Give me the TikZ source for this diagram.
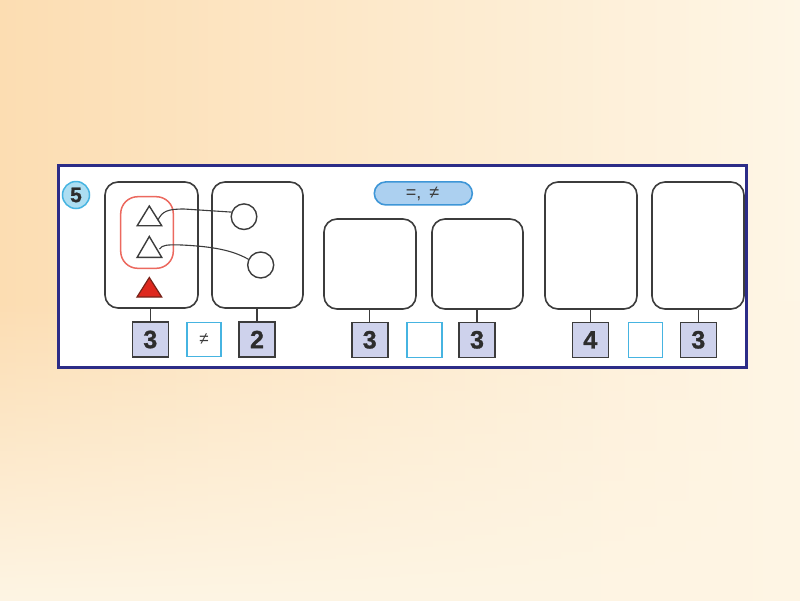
\documentclass[tikz,border=0pt]{standalone}
\usepackage{fontspec}
\setmainfont{Liberation Sans}
\usetikzlibrary{fadings}
\definecolor{bgL}{RGB}{252,221,178}
\definecolor{bgR}{RGB}{254,246,230}
\definecolor{bgB}{RGB}{254,245,228}
\definecolor{navy}{RGB}{44,44,135}
\definecolor{cyanline}{RGB}{70,180,225}
\definecolor{cyanfill}{RGB}{172,222,242}
\definecolor{pillfill}{RGB}{172,208,240}
\definecolor{pillline}{RGB}{62,150,215}
\definecolor{numfill}{RGB}{206,210,236}
\definecolor{inkgray}{RGB}{60,60,60}
\definecolor{digit}{RGB}{45,45,45}
\definecolor{redline}{RGB}{236,105,95}
\definecolor{redfill}{RGB}{222,40,30}
\definecolor{reddark}{RGB}{120,35,25}
\tikzset{
  bigbox/.style={draw=inkgray, line width=1.6pt, rounded corners=13pt, inner sep=0pt, fill=white},
  numbox/.style={draw=inkgray, line width=1.6pt, fill=numfill, inner sep=0pt,
     minimum width=36pt, minimum height=35pt, text=digit,
     font=\fontsize{25}{25}\selectfont\bfseries\addfontfeature{FakeBold=1.2}},
  signbox/.style={draw=cyanline, line width=1.6pt, fill=white, inner sep=0pt,
     minimum width=34pt, minimum height=34pt, text=inkgray,
     font=\fontsize{17}{17}\selectfont},
  stem/.style={draw=inkgray, line width=1.5pt},
  link/.style={draw=inkgray, line width=1.1pt},
  hollowtri/.style={draw=inkgray, line width=1.4pt, fill=white, line join=miter},
}
\begin{document}
\begin{tikzpicture}[x=1pt,y=-1pt]
\useasboundingbox (0,0) rectangle (800,600);
% background
\fill[left color=bgL, right color=bgR] (-1,-1) rectangle (801,601);
\fill[bgB, path fading=north] (-1,300) rectangle (801,601);
% frame
\draw[navy, line width=3.5pt, fill=white] (58.5,165.5) rectangle (746.5,367.5);
% number badge
\node[circle, draw=cyanline, fill=cyanfill, line width=1.5pt, minimum size=27pt, inner sep=0pt,
  font=\fontsize{21}{21}\selectfont\bfseries\addfontfeature{FakeBold=1}, text=digit] (badge) at (76,195) {5};
% big boxes
\node[bigbox, minimum width=93pt, minimum height=126pt] (b1) at (151.5,245) {};
\node[bigbox, minimum width=91pt, minimum height=126pt] (b2) at (257.5,245) {};
\node[bigbox, minimum width=92pt, minimum height=90pt] (b3) at (370,264) {};
\node[bigbox, minimum width=91pt, minimum height=90pt] (b4) at (477.5,264) {};
\node[bigbox, minimum width=92pt, minimum height=127pt] (b5) at (591,245.5) {};
\node[bigbox, minimum width=92pt, minimum height=127pt] (b6) at (698,245.5) {};
% pill
\node[draw=pillline, fill=pillfill, line width=1.6pt, rounded corners=11.5pt, inner sep=0pt,
  minimum width=98pt, minimum height=23pt] (pill) at (423.3,193.4) {};
\node[anchor=base, inner sep=0pt, text=inkgray, font=\fontsize{18}{18}\selectfont]
  (pilltext) at (422.5,198.5) {=,\, ≠};
% number boxes
\node[numbox] (n1) at (150.3,339.5) {3};
\node[signbox] (s1) at (204,339.5) {≠};
\node[numbox] (n2) at (257,339.5) {2};
\node[numbox] (n3) at (369.7,339.8) {3};
\node[signbox, minimum width=35pt, minimum height=35pt] (s2) at (424.2,339.8) {};
\node[numbox] (n4) at (477,339.8) {3};
\node[numbox] (n5) at (590.3,339.8) {4};
\node[signbox, minimum height=35pt] (s3) at (645.3,339.8) {};
\node[numbox] (n6) at (698.3,339.8) {3};
% stems
\draw[stem] (b1.south -| n1.north) -- (n1.north);
\draw[stem] (b2.south -| n2.north) -- (n2.north);
\draw[stem] (b3.south -| n3.north) -- (n3.north);
\draw[stem] (b4.south -| n4.north) -- (n4.north);
\draw[stem] (b5.south -| n5.north) -- (n5.north);
\draw[stem] (b6.south -| n6.north) -- (n6.north);
% red group
\draw[redline, line width=1.5pt, rounded corners=17pt] (120.7,196.7) rectangle (173.3,268.3);
% triangles
\draw[hollowtri] (149.3,206) -- (161.7,225.7) -- (137.2,225.7) -- cycle;
\draw[hollowtri] (149.3,236.5) -- (161.7,257.3) -- (137.2,257.3) -- cycle;
\draw[draw=reddark, fill=redfill, line width=1.2pt, line join=miter] (149.3,277.5) -- (161.7,297) -- (137,297) -- cycle;
\coordinate (t1) at (157.8,220.5);
\coordinate (t2) at (159.5,249);
% circles
\node[circle, draw=inkgray, line width=1.4pt, fill=white, minimum size=25.6pt, inner sep=0pt] (c1) at (244,216.7) {};
\node[circle, draw=inkgray, line width=1.4pt, fill=white, minimum size=26pt, inner sep=0pt] (c2) at (260.7,265) {};
% links
\draw[link] (t1) .. controls (162,211) and (168,209) .. (184,209) -- (c1.160);
\draw[link] (t2) .. controls (162,245) and (167,244.5) .. (182,245) .. controls (212,246.5) and (232,250) .. (c2.155);
\end{tikzpicture}
\end{document}
